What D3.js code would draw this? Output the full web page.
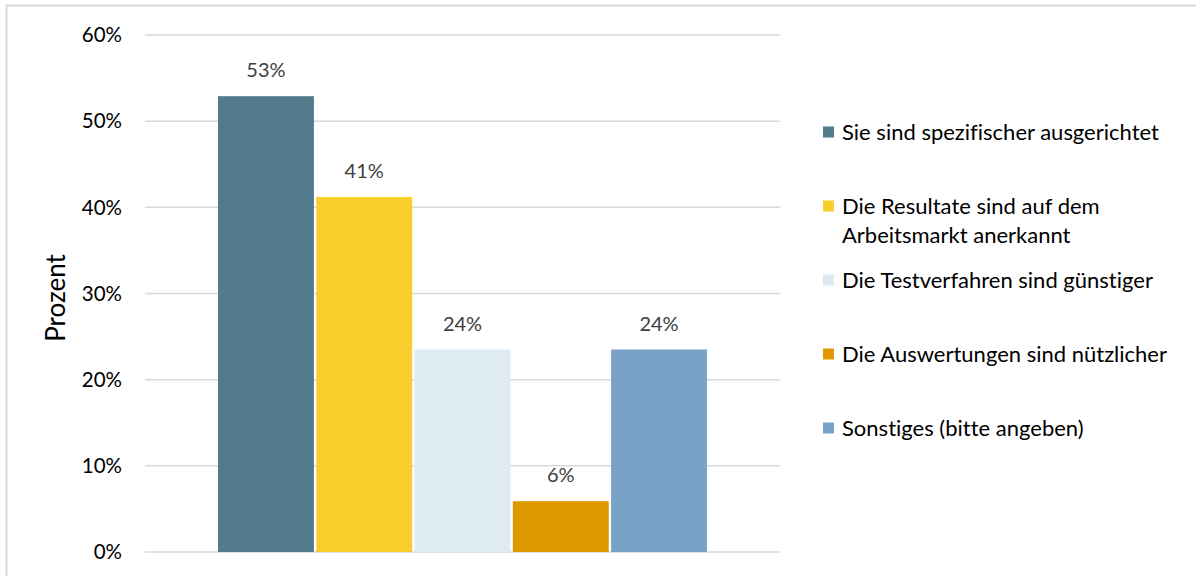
<!DOCTYPE html>
<html>
<head>
<meta charset="utf-8">
<script src="https://cdn.jsdelivr.net/npm/d3@7"></script>
<style>
  body { margin: 0; background: #fff; }
  svg { display: block; font-family: Lato, "Open Sans", sans-serif; font-variant-ligatures: none; }
</style>
</head>
<body>
<svg id="chart" width="1196" height="576"></svg>
<script>
// data
const categories = [
    'Sie sind spezifischer ausgerichtet',
    'Die Resultate sind auf dem|Arbeitsmarkt anerkannt',
    'Die Testverfahren sind günstiger',
    'Die Auswertungen sind nützlicher',
    'Sonstiges (bitte angeben)'
];
const values = [52.9, 41.2, 23.5, 5.9, 23.5];
const colors = ['#527b8b', '#f9cd2b', '#deecf2', '#e09800', '#79a2c8'];
const yTicks = [0, 10, 20, 30, 40, 50, 60];
const legendY = [132, 206, 280, 354, 428];

const svg = d3.select('#chart');

// outer frame (only top/left visible in the crop)
svg.append('rect')
    .attr('x', 6.5).attr('y', 5.5)
    .attr('width', 1300).attr('height', 700)
    .attr('fill', 'none')
    .attr('stroke', '#d9d9d9')
    .attr('stroke-width', 2);

const plot = { left: 145, right: 780, top: 35, bottom: 552 };

const y = d3.scaleLinear()
    .domain([0, 60])
    .range([plot.bottom, plot.top]);

const x = d3.scaleBand()
    .domain(d3.range(values.length))
    .range([218, 707])
    .paddingInner(0.024)
    .paddingOuter(0);

// gridlines
svg.append('g')
    .selectAll('line')
    .data(yTicks)
    .join('line')
    .attr('x1', plot.left)
    .attr('x2', plot.right)
    .attr('y1', d => y(d))
    .attr('y2', d => y(d))
    .attr('stroke', '#d9d9d9')
    .attr('stroke-width', 1.5);

// y tick labels
svg.append('g')
    .selectAll('text')
    .data(yTicks)
    .join('text')
    .attr('x', 122)
    .attr('y', d => y(d))
    .attr('dy', '0.35em')
    .attr('text-anchor', 'end')
    .attr('fill', '#000')
    .style('font-size', '20.5px')
    .text(d => d + '%');

// axis title
svg.append('text')
    .attr('transform', 'translate(65,298) rotate(-90)')
    .attr('text-anchor', 'middle')
    .attr('fill', '#000')
    .style('font-size', '26px')
    .text('Prozent');

// bars
svg.append('g')
    .selectAll('rect')
    .data(values)
    .join('rect')
    .attr('x', (d, i) => x(i))
    .attr('width', x.bandwidth())
    .attr('y', d => y(d))
    .attr('height', d => y(0) - y(d))
    .attr('fill', (d, i) => colors[i]);

// value labels
svg.append('g')
    .selectAll('text')
    .data(values)
    .join('text')
    .attr('x', (d, i) => x(i) + x.bandwidth() / 2)
    .attr('y', d => y(d) - 26)
    .attr('dy', '0.35em')
    .attr('text-anchor', 'middle')
    .attr('fill', '#404040')
    .style('font-size', '20px')
    .text(d => Math.round(d) + '%');

// legend
const legend = svg.append('g')
    .selectAll('g')
    .data(categories)
    .join('g')
    .attr('transform', (d, i) => `translate(823,${legendY[i]})`);

legend.append('rect')
    .attr('x', 0)
    .attr('y', -5.5)
    .attr('width', 11)
    .attr('height', 11)
    .attr('fill', (d, i) => colors[i]);

legend.append('text')
    .attr('fill', '#000')
    .style('font-size', '22px')
    .selectAll('tspan')
    .data(d => d.split('|'))
    .join('tspan')
    .attr('x', 19)
    .attr('y', (d, i) => i * 29)
    .attr('dy', '0.35em')
    .text(d => d);
</script>
</body>
</html>
